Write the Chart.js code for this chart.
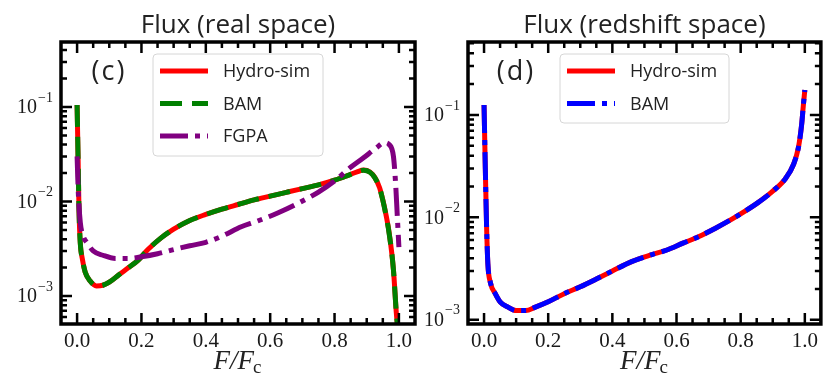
<!DOCTYPE html>
<html>
<head>
<meta charset="utf-8">
<title>Flux PDF</title>
<script src="https://cdn.jsdelivr.net/npm/chart.js@4.4.1/dist/chart.umd.min.js"></script>
<style>
	body { margin: 0; background: #fff; }
	#wrap { position: relative; width: 823px; height: 376px; overflow: hidden; }
	canvas { position: absolute; top: 0; }
	#grafReal { left: 0; }
	#grafRedshift { left: 420px; }
</style>
</head>
<body>
<div id="wrap">
	<canvas id="grafReal" width="420" height="376"></canvas>
	<canvas id="grafRedshift" width="403" height="376"></canvas>
</div>
<script>
// Panel (c): real space
const fluxReal = [0.000, 0.003, 0.006, 0.010, 0.016, 0.025, 0.040, 0.060, 0.080, 0.100, 0.130, 0.160, 0.190, 0.220, 0.260, 0.300, 0.350, 0.400, 0.450, 0.500, 0.550, 0.600, 0.650, 0.700, 0.750, 0.800, 0.840, 0.870, 0.890, 0.910, 0.925, 0.940, 0.950, 0.960, 0.970, 0.983, 0.992, 0.998];
const hydroReal = [0.105, 0.030, 0.008, 0.0036, 0.0025, 0.0018, 0.00145, 0.00128, 0.0013, 0.0014, 0.00168, 0.0020, 0.0024, 0.0031, 0.0041, 0.0051, 0.0063, 0.0073, 0.0083, 0.0093, 0.0104, 0.0114, 0.0125, 0.0137, 0.0150, 0.0168, 0.0188, 0.0206, 0.0215, 0.0205, 0.0180, 0.0140, 0.0104, 0.0072, 0.0046, 0.0019, 0.00066, 0.0004];
const bamReal = [0.105, 0.030, 0.008, 0.0036, 0.0025, 0.0018, 0.00145, 0.00128, 0.0013, 0.0014, 0.00168, 0.0020, 0.0024, 0.0031, 0.0041, 0.0051, 0.0063, 0.0073, 0.0083, 0.0093, 0.0104, 0.0114, 0.0125, 0.0137, 0.0150, 0.0168, 0.0188, 0.0206, 0.0214, 0.0204, 0.0179, 0.0139, 0.0103, 0.0071, 0.0045, 0.0019, 0.00066, 0.0004];
const fluxFgpa = [0.000, 0.004, 0.010, 0.020, 0.030, 0.050, 0.080, 0.120, 0.160, 0.200, 0.250, 0.300, 0.350, 0.400, 0.450, 0.510, 0.560, 0.625, 0.690, 0.750, 0.800, 0.850, 0.890, 0.930, 0.955, 0.970, 0.983, 0.990, 0.995, 1.000];
const fgpaReal = [0.030, 0.012, 0.006, 0.0042, 0.0037, 0.0030, 0.0027, 0.0025, 0.0025, 0.0026, 0.0028, 0.0031, 0.0034, 0.0037, 0.0043, 0.0054, 0.0062, 0.0076, 0.0097, 0.0126, 0.0165, 0.0230, 0.0290, 0.0370, 0.0420, 0.0400, 0.0300, 0.0150, 0.0070, 0.0033];

// Panel (d): redshift space
const fluxRedshift = [0.000, 0.004, 0.008, 0.012, 0.020, 0.035, 0.050, 0.075, 0.100, 0.130, 0.160, 0.200, 0.250, 0.300, 0.350, 0.400, 0.460, 0.520, 0.570, 0.620, 0.670, 0.720, 0.770, 0.810, 0.855, 0.900, 0.940, 0.965, 0.980, 0.990, 0.995, 1.000];
const hydroRedshift = [0.125, 0.030, 0.008, 0.0035, 0.0023, 0.0018, 0.0015, 0.00133, 0.00123, 0.00123, 0.00133, 0.0015, 0.0018, 0.0021, 0.0025, 0.0030, 0.0037, 0.0043, 0.0048, 0.0056, 0.0065, 0.0078, 0.0095, 0.0113, 0.0140, 0.0180, 0.0240, 0.0330, 0.0480, 0.0800, 0.1200, 0.1750];
const bamRedshift = [0.125, 0.030, 0.008, 0.0035, 0.0023, 0.0018, 0.0015, 0.00133, 0.00123, 0.00123, 0.00133, 0.0015, 0.0018, 0.0021, 0.0025, 0.0030, 0.0037, 0.0043, 0.0048, 0.0056, 0.0065, 0.0078, 0.0095, 0.0113, 0.0140, 0.0180, 0.0240, 0.0330, 0.0480, 0.0800, 0.1200, 0.1750];

// Ticks
const xTickValues = [0.0, 0.2, 0.4, 0.6, 0.8, 1.0];
const yTickValues = [1e-3, 1e-2, 1e-1];

function punts(xs, ys) {
	return xs.map((x, i) => ({ x: x, y: ys[i] }));
}

function dataset(label, xs, ys, color, dash, ordre) {
	return {
		label: label,
		data: punts(xs, ys),
		borderColor: color,
		borderWidth: 5,
		borderDash: dash,
		borderCapStyle: 'butt',
		borderJoinStyle: 'round',
		pointRadius: 0,
		cubicInterpolationMode: 'monotone',
		order: ordre
	};
}

// Draws frame, inward ticks, y labels, title, tag, legend and x label
const decorPlugin = {
	id: 'decor',
	afterDatasetsDraw(chart, args, opts) {
		let ctx = chart.ctx;
		let area = chart.chartArea;
		let dsets = chart.data.datasets;
		let bx = area.left + 92, by = area.top + 12;
		let bw = opts.legendWidth, bh = 36 + 33 * (dsets.length - 1);
		ctx.save();
		ctx.beginPath();
		ctx.roundRect(bx, by, bw, bh, 4);
		ctx.fillStyle = 'rgba(255,255,255,0.85)';
		ctx.fill();
		ctx.strokeStyle = '#d6d6d6';
		ctx.lineWidth = 1;
		ctx.stroke();
		dsets.forEach((ds, i) => {
			let ly = by + 17 + 32.5 * i;
			ctx.beginPath();
			ctx.setLineDash(ds.borderDash || []);
			ctx.lineCap = 'butt';
			ctx.strokeStyle = ds.borderColor;
			ctx.lineWidth = 5;
			ctx.moveTo(bx + 7, ly);
			ctx.lineTo(bx + 55, ly);
			ctx.stroke();
			ctx.setLineDash([]);
			ctx.fillStyle = '#222';
			ctx.font = '18px "Open Sans"';
			ctx.textAlign = 'left';
			ctx.textBaseline = 'middle';
			ctx.fillText(ds.label, bx + 70, ly + 1);
		});
		ctx.restore();
	},
	afterDraw(chart, args, opts) {
		let ctx = chart.ctx;
		let area = chart.chartArea;
		let xs = chart.scales.x, ys = chart.scales.y;
		ctx.save();

		// tick marks on all four sides
		ctx.strokeStyle = '#000';
		ctx.lineWidth = 2.5;
		ctx.beginPath();
		for (let i = -1; i <= 21; i++) {
			let v = i * 0.05;
			if (v <= xs.min || v >= xs.max) continue;
			let px = xs.getPixelForValue(v);
			let len = (i % 4 == 0) ? 11 : 6;
			ctx.moveTo(px, area.bottom); ctx.lineTo(px, area.bottom - len);
			ctx.moveTo(px, area.top); ctx.lineTo(px, area.top + len);
		}
		for (let k = -4; k <= 0; k++) {
			for (let m = 1; m <= 9; m++) {
				let v = m * Math.pow(10, k);
				if (v <= ys.min || v >= ys.max) continue;
				let py = ys.getPixelForValue(v);
				let len = (m == 1) ? 11 : 6;
				ctx.moveTo(area.left, py); ctx.lineTo(area.left + len, py);
				ctx.moveTo(area.right, py); ctx.lineTo(area.right - len, py);
			}
		}
		ctx.stroke();

		// frame
		ctx.lineWidth = 3.5;
		ctx.strokeRect(area.left, area.top, area.right - area.left, area.bottom - area.top);

		// y labels 10^k
		ctx.fillStyle = '#1a1a1a';
		ctx.textBaseline = 'middle';
		ctx.textAlign = 'right';
		yTickValues.forEach(v => {
			if (v < ys.min || v > ys.max) return;
			let py = ys.getPixelForValue(v);
			let exp = '\u2212' + Math.abs(Math.round(Math.log10(v)));
			let dreta = area.left - 8;
			ctx.font = '14px "Liberation Serif"';
			let ws = ctx.measureText(exp).width;
			ctx.fillText(exp, dreta, py - 9);
			ctx.font = '20px "Liberation Serif"';
			ctx.fillText('10', dreta - ws - 1, py + 1);
		});

		// title
		let cx = (area.left + area.right) / 2;
		ctx.fillStyle = '#222';
		ctx.font = '26px "Open Sans"';
		ctx.textAlign = 'center';
		ctx.textBaseline = 'alphabetic';
		ctx.fillText(opts.title, cx, 33);

		// panel tag
		ctx.font = '27px "Open Sans"';
		ctx.letterSpacing = '2px';
		ctx.textBaseline = 'middle';
		ctx.fillText(opts.tag, area.left + 48, area.top + 30);
		ctx.letterSpacing = '0px';

		// x label F/F_c
		ctx.textBaseline = 'alphabetic';
		ctx.textAlign = 'left';
		ctx.font = 'italic 27px "Liberation Serif"';
		let w1 = ctx.measureText('F/F').width;
		ctx.font = '19px "Liberation Serif"';
		let w2 = ctx.measureText('c').width;
		let x0 = cx - (w1 + w2) / 2;
		ctx.font = 'italic 27px "Liberation Serif"';
		ctx.fillText('F/F', x0, 369);
		ctx.font = '19px "Liberation Serif"';
		ctx.fillText('c', x0 + w1 - 1, 373);

		ctx.restore();
	}
};

function config(datasets, yMin, yMax, yWidth, dretaPad, title, tag, legendWidth) {
	return {
		type: 'line',
		data: { datasets: datasets },
		options: {
			responsive: false,
			animation: false,
			layout: { padding: { top: 42, right: dretaPad, left: 0, bottom: 0 } },
			plugins: {
				legend: { display: false },
				tooltip: { enabled: false },
				decor: { title: title, tag: tag, legendWidth: legendWidth }
			},
			scales: {
				x: {
					type: 'linear',
					min: -0.05,
					max: 1.05,
					afterBuildTicks: s => { s.ticks = xTickValues.map(v => ({ value: v })); },
					afterFit: s => { s.height = 52; },
					grid: { display: false, drawTicks: false },
					border: { display: false },
					ticks: {
						autoSkip: false,
						maxRotation: 0,
						padding: 5,
						color: '#1a1a1a',
						font: { family: 'Liberation Serif', size: 21 },
						callback: v => v.toFixed(1)
					}
				},
				y: {
					type: 'logarithmic',
					min: yMin,
					max: yMax,
					afterBuildTicks: s => { s.ticks = yTickValues.map(v => ({ value: v })); },
					afterFit: s => { s.width = yWidth; },
					grid: { display: false, drawTicks: false },
					border: { display: false },
					ticks: { display: false }
				}
			}
		},
		plugins: [decorPlugin]
	};
}

new Chart(document.getElementById('grafReal'), config([
	dataset('Hydro-sim', fluxReal, hydroReal, '#ff0000', [], 3),
	dataset('BAM', fluxReal, bamReal, '#008000', [22, 10], 2),
	dataset('FGPA', fluxFgpa, fgpaReal, '#800080', [28, 7, 5, 7], 1)
], 5.06e-4, 0.487, 61, 5, 'Flux (real space)', '(c)', 170));

new Chart(document.getElementById('grafRedshift'), config([
	dataset('Hydro-sim', fluxRedshift, hydroRedshift, '#ff0000', [], 2),
	dataset('BAM', fluxRedshift, bamRedshift, '#0000ff', [28, 7, 5, 7], 1)
], 9.1e-4, 0.515, 48, 1, 'Flux (redshift space)', '(d)', 169));
</script>
</body>
</html>
